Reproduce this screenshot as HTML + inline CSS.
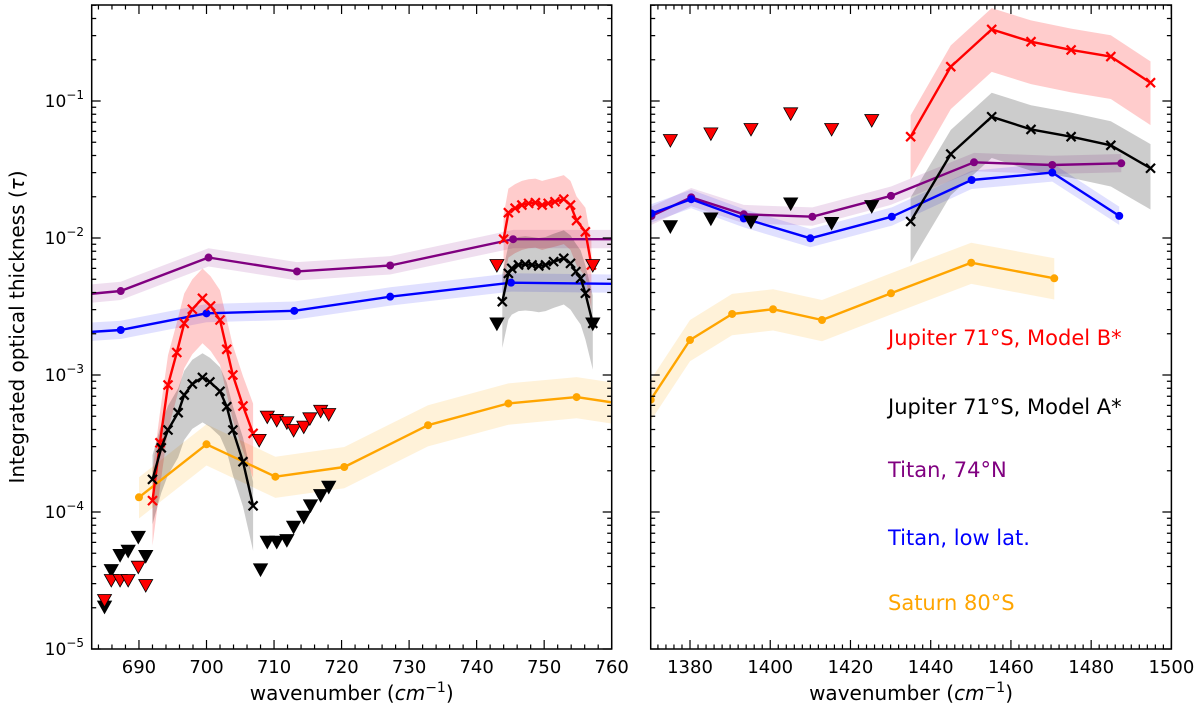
<!DOCTYPE html>
<html><head><meta charset="utf-8"><style>
html,body{margin:0;padding:0;background:#fff;}
svg{display:block;font-family:"DejaVu Sans","Liberation Sans",sans-serif;}
</style></head><body>
<svg id="chart" width="1200" height="710" viewBox="0 0 1200 710" xmlns="http://www.w3.org/2000/svg">
<defs>
<clipPath id="clipL"><rect x="91.7" y="5" width="520" height="644"/></clipPath>
<clipPath id="clipR"><rect x="650.7" y="5" width="520.7" height="644"/></clipPath>
</defs>
<g id="root"></g>
</svg>
<script>
// ---------- LEFT PANEL DATA ----------
const leftTitan74X = [675, 687.3, 700.3, 713.4, 727.2, 745.4, 765];
const leftTitan74Y = [3.6e-3, 4.1e-3, 7.2e-3, 5.7e-3, 6.3e-3, 9.8e-3, 9.8e-3];
const leftTitanLowX = [675, 687.3, 700.0, 713.0, 727.2, 745.1, 765];
const leftTitanLowY = [1.95e-3, 2.13e-3, 2.82e-3, 2.94e-3, 3.73e-3, 4.72e-3, 4.6e-3];
const leftSaturnX = [690, 700, 710.2, 720.4, 732.8, 744.7, 754.8, 765];
const leftSaturnY = [1.28e-4, 3.12e-4, 1.81e-4, 2.13e-4, 4.3e-4, 6.2e-4, 6.9e-4, 5.8e-4];
const leftJupBX1 = [692.0,693.1,694.3,695.6,696.7,697.9,699.4,700.6,702.0,703.0,703.9,705.4,706.9];
const leftJupBY1 = [1.21e-4,3.2e-4,8.45e-4,1.46e-3,2.38e-3,3.02e-3,3.63e-3,3.19e-3,2.52e-3,1.54e-3,1.0e-3,5.94e-4,3.75e-4];
const leftJupAX1 = [692.0,693.3,694.3,695.8,696.7,697.9,699.4,700.5,702.0,703.0,703.9,705.4,706.9];
const leftJupAY1 = [1.73e-4,2.94e-4,3.97e-4,5.31e-4,7.14e-4,8.6e-4,9.6e-4,8.9e-4,7.6e-4,5.87e-4,3.97e-4,2.33e-4,1.11e-4];
const leftJupBX2 = [744.0,744.7,745.7,746.7,747.7,748.7,749.7,750.6,751.6,752.9,753.9,754.8,756.1,757.0];
const leftJupBY2 = [9.8e-3,1.53e-2,1.65e-2,1.74e-2,1.79e-2,1.81e-2,1.74e-2,1.79e-2,1.84e-2,1.92e-2,1.74e-2,1.34e-2,1.11e-2,6.35e-3];
const leftJupAX2 = [743.8,744.7,745.2,746.2,747.2,748.2,749.2,750.2,751.4,752.9,753.9,754.7,755.4,756.1,757.2];
const leftJupAY2 = [3.43e-3,5.52e-3,6.0e-3,6.36e-3,6.43e-3,6.36e-3,6.25e-3,6.36e-3,6.72e-3,7.11e-3,6.53e-3,5.68e-3,5.08e-3,3.95e-3,2.38e-3];
const leftUpperRedX = [684.9,685.9,687.2,688.4,689.9,691.0,707.8,709.0,710.4,711.9,712.9,714.4,715.3,716.9,718.1,743.0,757.2];
const leftUpperRedY = [2.28e-5,3.19e-5,3.19e-5,3.19e-5,3.99e-5,2.93e-5,3.36e-4,4.97e-4,4.7e-4,4.52e-4,3.97e-4,4.2e-4,4.83e-4,5.48e-4,5.19e-4,6.35e-3,6.35e-3];
const leftUpperBlackX = [684.9,685.9,687.2,688.4,689.9,691.0,708.0,709.0,710.4,711.9,712.9,714.4,715.4,716.9,718.1,743.0,757.2];
const leftUpperBlackY = [2.04e-5,3.77e-5,4.86e-5,5.22e-5,6.6e-5,4.78e-5,3.82e-5,6.07e-5,6.07e-5,6.25e-5,7.82e-5,9.24e-5,1.12e-4,1.33e-4,1.53e-4,2.38e-3,2.38e-3];

// ---------- RIGHT PANEL DATA ----------
const rightTitan74X = [1370.4,1380.3,1393.4,1410.5,1430.1,1450.8,1470.3,1487.5];
const rightTitan74Y = [1.45e-2,1.98e-2,1.49e-2,1.43e-2,2.03e-2,3.57e-2,3.41e-2,3.51e-2];
const rightTitanLowX = [1370.4,1380.3,1393.4,1410.0,1430.3,1450.2,1470.3,1487.0];
const rightTitanLowY = [1.51e-2,1.92e-2,1.39e-2,9.95e-3,1.43e-2,2.65e-2,3.0e-2,1.45e-2];
const rightSaturnX = [1370.2,1380.0,1390.5,1400.7,1412.9,1430.1,1450.1,1470.8];
const rightSaturnY = [6.6e-4,1.8e-3,2.79e-3,3.02e-3,2.52e-3,3.95e-3,6.6e-3,5.08e-3];
const rightJupBX = [1435.0,1445.0,1455.2,1465.0,1475.0,1484.9,1494.8];
const rightJupBY = [5.49e-2,0.178,0.333,0.271,0.236,0.211,0.136];
const rightJupAX = [1435.0,1445.0,1455.2,1465.0,1475.0,1484.9,1494.8];
const rightJupAY = [1.32e-2,4.1e-2,7.67e-2,6.2e-2,5.49e-2,4.75e-2,3.23e-2];
const rightUpperX = [1375.1,1385.2,1395.2,1405.1,1415.3,1425.3];
const rightUpperRedY = [5.19e-2,5.8e-2,6.25e-2,8.13e-2,6.25e-2,7.26e-2];
const rightUpperBlackY = [1.22e-2,1.39e-2,1.32e-2,1.79e-2,1.29e-2,1.71e-2];

const xTickLeft = [690,700,710,720,730,740,750,760];
const xTickRight = [1380,1400,1420,1440,1460,1480,1500];
const yTickExp = [-5,-4,-3,-2,-1];
const legendLabels = ["Jupiter 71°S, Model B*","Jupiter 71°S, Model A*","Titan, 74°N","Titan, low lat.","Saturn 80°S"];
const legendColors = ["#ff0000","#000000","#800080","#0000ff","#ffa500"];

// ---------- AXES ----------
const NS="http://www.w3.org/2000/svg";
const root=document.getElementById('root');
const Y0=649, DEC=137, TOP=5;
function yS(v){return Y0-(Math.log10(v)+5)*DEC;}
const L={x0:91.7,x1:611.7,v0:683,v1:760,clip:'url(#clipL)'};
const R={x0:650.7,x1:1171.4,v0:1370.2,v1:1500,clip:'url(#clipR)'};
function xS(p,v){return p.x0+(v-p.v0)*(p.x1-p.x0)/(p.v1-p.v0);}
function el(tag,attrs,parent){const e=document.createElementNS(NS,tag);for(const k in attrs)e.setAttribute(k,attrs[k]);(parent||root).appendChild(e);return e;}

function band(p,g,xs,ys,hi,lo,fill,name){
  let pts=[];
  for(let i=0;i<xs.length;i++)pts.push(xS(p,xs[i]).toFixed(1)+','+yS(ys[i]*hi).toFixed(1));
  for(let i=xs.length-1;i>=0;i--)pts.push(xS(p,xs[i]).toFixed(1)+','+yS(ys[i]*lo).toFixed(1));
  const e=el('polygon',{points:pts.join(' '),fill:fill,stroke:'none'},g);
  
  
}
function line(p,g,xs,ys,color,name){
  const pts=xs.map((x,i)=>xS(p,x).toFixed(1)+','+yS(ys[i]).toFixed(1)).join(' ');
  const e=el('polyline',{points:pts,fill:'none',stroke:color,'stroke-width':2.4,'stroke-linejoin':'round'},g);
  
  
}
function dots(p,g,xs,ys,color,name){
  xs.forEach((x,i)=>{const e=el('circle',{cx:xS(p,x),cy:yS(ys[i]),r:4,fill:color},g);
    
    });
}
function crosses(p,g,xs,ys,color,name){
  xs.forEach((x,i)=>{const cx=xS(p,x),cy=yS(ys[i]),s=4.5;
    const e=el('path',{d:`M${cx-s},${cy-s}L${cx+s},${cy+s}M${cx-s},${cy+s}L${cx+s},${cy-s}`,stroke:color,'stroke-width':2.2,fill:'none'},g);
    
    });
}
function tris(p,g,xs,ys,color,edge,name){
  xs.forEach((x,i)=>{const cx=xS(p,x),cy=yS(ys[i]),w=7;
    const e=el('polygon',{points:`${cx-w},${cy-5.5} ${cx+w},${cy-5.5} ${cx},${cy+7}`,fill:color,stroke:edge,'stroke-width':0.8},g);
    
    });
}
function frame(p,labels,xticks,panelName){
  const g=el('g',{});
  
  
  const b=el('rect',{x:p.x0,y:TOP,width:p.x1-p.x0,height:Y0-TOP,fill:'none',stroke:'#000','stroke-width':1.5},g);
  
  
  let d='';
  for(let v=Math.ceil(p.v0/2)*2;v<=p.v1;v+=2){const x=xS(p,v);const len=xticks.includes(v)?9:4.5;
    d+=`M${x},${Y0}v${-len}M${x},${TOP}v${len}`;}
  for(let e=-5;e<=0;e++)for(let m=1;m<10;m++){const y=yS(m*Math.pow(10,e));if(y<TOP||y>Y0)continue;const len=m==1?9:4.5;
    d+=`M${p.x0},${y}h${len}M${p.x1},${y}h${-len}`;}
  el('path',{d:d,stroke:'#000','stroke-width':1.2,fill:'none'},g);
  xticks.forEach(v=>{const t=el('text',{x:xS(p,v),y:673,'font-size':18,'text-anchor':'middle',fill:'#000'},g);t.textContent=v;
    
    });
  if(labels){yTickExp.forEach(e=>{const t=el('text',{x:84,y:yS(Math.pow(10,e))+6,'font-size':17,'text-anchor':'end',fill:'#000'},g);
    t.innerHTML='10<tspan dy="-8" font-size="12">−'+(-e)+'</tspan>';
    
    });}
  const xl=el('text',{x:(p.x0+p.x1)/2,y:700,'font-size':20,'text-anchor':'middle',fill:'#000'},g);
  xl.innerHTML='wavenumber (<tspan font-style="italic">cm</tspan><tspan dy="-8" font-size="14">−1</tspan><tspan dy="8">)</tspan>';
  
  
}

// ---------- LEFT PANEL ----------
const gL=el('g',{'clip-path':L.clip});


band(L,gL,leftTitan74X,leftTitan74Y,1.17,0.86,'rgba(128,0,128,0.13)','titan-74n-band');
band(L,gL,leftTitanLowX,leftTitanLowY,1.17,0.86,'rgba(0,0,255,0.12)','titan-low-band');
band(L,gL,leftSaturnX,leftSaturnY,1.4,0.7,'rgba(255,165,0,0.15)','saturn-band');
band(L,gL,leftJupBX1,leftJupBY1,1.65,0.47,'rgba(255,0,0,0.2)','jupiter-b-band');
band(L,gL,leftJupAX1,leftJupAY1,1.5,0.47,'rgba(0,0,0,0.2)','jupiter-a-band');
band(L,gL,leftJupBX2,leftJupBY2,1.5,0.47,'rgba(255,0,0,0.2)','jupiter-b-band');
band(L,gL,leftJupAX2,leftJupAY2,1.6,0.46,'rgba(0,0,0,0.2)','jupiter-a-band');
line(L,gL,leftTitan74X,leftTitan74Y,'#800080','titan-74n-line');dots(L,gL,leftTitan74X,leftTitan74Y,'#800080','titan-74n-point');
line(L,gL,leftTitanLowX,leftTitanLowY,'#0000ff','titan-low-line');dots(L,gL,leftTitanLowX,leftTitanLowY,'#0000ff','titan-low-point');
line(L,gL,leftSaturnX,leftSaturnY,'#ffa500','saturn-line');dots(L,gL,leftSaturnX,leftSaturnY,'#ffa500','saturn-point');
line(L,gL,leftJupBX1,leftJupBY1,'#ff0000','jupiter-b-line');crosses(L,gL,leftJupBX1,leftJupBY1,'#ff0000','jupiter-b-point');
line(L,gL,leftJupAX1,leftJupAY1,'#000','jupiter-a-line');crosses(L,gL,leftJupAX1,leftJupAY1,'#000','jupiter-a-point');
line(L,gL,leftJupBX2,leftJupBY2,'#ff0000','jupiter-b-line');crosses(L,gL,leftJupBX2,leftJupBY2,'#ff0000','jupiter-b-point');
line(L,gL,leftJupAX2,leftJupAY2,'#000','jupiter-a-line');crosses(L,gL,leftJupAX2,leftJupAY2,'#000','jupiter-a-point');
tris(L,gL,leftUpperBlackX,leftUpperBlackY,'#000','#000','jupiter-a-upper-limit');
tris(L,gL,leftUpperRedX,leftUpperRedY,'#ff0000','#000','jupiter-b-upper-limit');
frame(L,true,xTickLeft,'left-panel');

// ---------- RIGHT PANEL ----------
const gR=el('g',{'clip-path':R.clip});


band(R,gR,rightTitan74X,rightTitan74Y,1.17,0.86,'rgba(128,0,128,0.13)','titan-74n-band');
band(R,gR,rightTitanLowX,rightTitanLowY,1.17,0.86,'rgba(0,0,255,0.12)','titan-low-band');
band(R,gR,rightSaturnX,rightSaturnY,1.4,0.7,'rgba(255,165,0,0.15)','saturn-band');
band(R,gR,rightJupBX,rightJupBY,1.43,0.49,'rgba(255,0,0,0.2)','jupiter-b-band');
band(R,gR,rightJupAX,rightJupAY,1.5,0.5,'rgba(0,0,0,0.2)','jupiter-a-band');
line(R,gR,rightTitan74X,rightTitan74Y,'#800080','titan-74n-line');dots(R,gR,rightTitan74X,rightTitan74Y,'#800080','titan-74n-point');
line(R,gR,rightTitanLowX,rightTitanLowY,'#0000ff','titan-low-line');dots(R,gR,rightTitanLowX,rightTitanLowY,'#0000ff','titan-low-point');
line(R,gR,rightSaturnX,rightSaturnY,'#ffa500','saturn-line');dots(R,gR,rightSaturnX,rightSaturnY,'#ffa500','saturn-point');
line(R,gR,rightJupBX,rightJupBY,'#ff0000','jupiter-b-line');crosses(R,gR,rightJupBX,rightJupBY,'#ff0000','jupiter-b-point');
line(R,gR,rightJupAX,rightJupAY,'#000','jupiter-a-line');crosses(R,gR,rightJupAX,rightJupAY,'#000','jupiter-a-point');
tris(R,gR,rightUpperX,rightUpperBlackY,'#000','#000','jupiter-a-upper-limit');
tris(R,gR,rightUpperX,rightUpperRedY,'#ff0000','#000','jupiter-b-upper-limit');
frame(R,false,xTickRight,'right-panel');

// ---------- LEGEND ----------
const legY=[345,414,477,545,610];
legendLabels.forEach((s,i)=>{
  const t=el('text',{x:888,y:legY[i],'font-size':21,fill:legendColors[i]});
  t.textContent=s;
  
  
});

// ---------- Y AXIS TITLE ----------
const yt=el('text',{x:0,y:0,'font-size':20,'text-anchor':'middle',fill:'#000',transform:'translate(24,327) rotate(-90)'});
yt.innerHTML='Integrated optical thickness (<tspan font-style="italic">τ</tspan>)';


</script>
</body></html>
